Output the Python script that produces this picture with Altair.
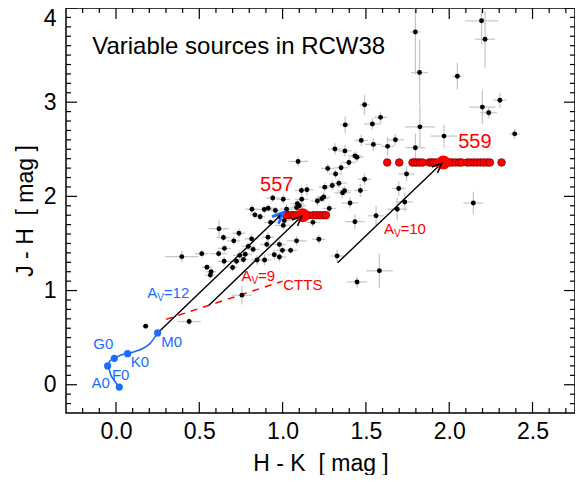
import math
import altair as alt
import pandas as pd

# ---------------- data ----------------
# black variable sources: H-K, J-H and their errors
bx = [0.178, 0.439, 0.395, 0.515, 0.546, 0.571, 0.566, 0.618, 0.645, 0.651,
      0.616, 0.649, 0.707, 0.738, 0.700, 0.723, 0.743, 0.765, 0.776, 0.794,
      0.814, 0.823, 0.816, 0.834, 0.865, 0.890, 0.847, 0.892, 0.912, 0.905,
      0.941, 1.004, 0.928, 0.957, 0.950, 0.981, 0.999, 1.004, 0.981, 1.048,
      1.084, 1.093, 1.113, 1.088, 1.115, 1.182, 1.218, 1.209, 1.235, 1.247,
      1.253, 1.271, 1.280, 1.298, 1.318, 1.314, 1.351, 1.338, 1.360, 1.372,
      1.376, 1.374, 1.398, 1.434, 1.447, 1.467, 1.472, 1.492, 1.405, 1.434,
      1.492, 1.539, 1.545, 1.588, 1.561, 1.581, 1.447, 1.327, 1.630, 1.677,
      1.697, 1.688, 1.733, 1.744, 1.797, 1.824, 1.822, 1.797, 1.969, 2.049,
      2.145, 2.194, 2.215, 2.199, 2.237, 2.304, 2.393, 0.756, 1.084, 1.100,
      1.146, 0.914, 0.984, 1.024, 1.010]
by = [0.622, 0.671, 1.360, 1.392, 1.248, 1.199, 1.164, 1.657, 1.563, 1.448,
      1.392, 1.311, 1.528, 1.608, 1.245, 1.311, 1.374, 1.329, 1.385, 1.469,
      1.549, 1.437, 1.864, 1.804, 1.783, 1.860, 1.325, 1.325, 1.566, 1.490,
      1.983, 1.969, 1.724, 1.850, 1.381, 1.357, 1.427, 1.692, 1.490, 1.427,
      1.528, 2.371, 2.063, 1.923, 1.969, 1.724, 1.545, 1.951, 1.976, 1.993,
      2.098, 2.297, 1.871, 2.115, 2.238, 2.503, 2.304, 2.140, 2.038, 2.059,
      2.759, 2.483, 2.360, 2.430, 2.416, 2.063, 2.594, 2.182, 1.930, 1.731,
      2.972, 2.769, 2.552, 2.839, 1.794, 1.210, 1.091, 1.367, 2.531, 2.601,
      2.084, 1.864, 1.941, 2.238, 2.517, 2.738, 3.315, 3.745, 2.640, 3.276,
      1.930, 3.864, 3.668, 2.948, 2.888, 3.021, 2.664, 0.951, 1.880, 1.900,
      2.070, 1.874, 1.784, 1.864, 1.742]
bxe = [0.02, 0.07, 0.10, 0.04, 0.03, 0.03, 0.03, 0.06, 0.04, 0.04,
       0.05, 0.04, 0.04, 0.04, 0.03, 0.04, 0.04, 0.03, 0.04, 0.04,
       0.04, 0.04, 0.04, 0.03, 0.03, 0.05, 0.04, 0.04, 0.04, 0.04,
       0.04, 0.04, 0.04, 0.03, 0.04, 0.04, 0.04, 0.05, 0.04, 0.04,
       0.06, 0.06, 0.04, 0.04, 0.04, 0.04, 0.04, 0.04, 0.04, 0.04,
       0.04, 0.04, 0.04, 0.04, 0.04, 0.04, 0.04, 0.05, 0.05, 0.04,
       0.03, 0.04, 0.04, 0.04, 0.04, 0.04, 0.04, 0.04, 0.05, 0.06,
       0.03, 0.05, 0.05, 0.04, 0.05, 0.08, 0.06, 0.04, 0.04, 0.05,
       0.04, 0.06, 0.05, 0.05, 0.06, 0.09, 0.05, 0.03, 0.08, 0.03,
       0.06, 0.10, 0.06, 0.08, 0.05, 0.04, 0.03, 0.06, 0.04, 0.04,
       0.04, 0.04, 0.04, 0.04, 0.04]
bye = [0.03, 0.04, 0.06, 0.04, 0.03, 0.03, 0.03, 0.09, 0.04, 0.04,
       0.04, 0.05, 0.04, 0.05, 0.04, 0.04, 0.05, 0.04, 0.04, 0.04,
       0.05, 0.04, 0.04, 0.04, 0.04, 0.04, 0.05, 0.06, 0.05, 0.05,
       0.04, 0.05, 0.04, 0.04, 0.05, 0.05, 0.04, 0.05, 0.05, 0.04,
       0.05, 0.05, 0.05, 0.05, 0.05, 0.05, 0.05, 0.05, 0.04, 0.05,
       0.05, 0.05, 0.05, 0.05, 0.05, 0.06, 0.05, 0.05, 0.06, 0.05,
       0.09, 0.06, 0.05, 0.05, 0.05, 0.07, 0.06, 0.06, 0.06, 0.08,
       0.11, 0.06, 0.07, 0.06, 0.10, 0.18, 0.06, 0.07, 0.10, 0.06,
       0.08, 0.12, 0.10, 0.08, 0.15, 0.22, 0.35, 0.45, 0.12, 0.14,
       0.12, 0.25, 0.30, 0.18, 0.06, 0.08, 0.05, 0.10, 0.05, 0.05,
       0.06, 0.04, 0.05, 0.05, 0.05]

# multi-epoch red measurements of sources 557 and 559
r557_x = [1.024, 1.040, 1.054, 1.068, 1.088, 1.154, 1.184, 1.204, 1.224, 1.244, 1.260]
r557_y = 1.80
r559_x = [1.628, 1.700, 1.780, 1.794, 1.808, 1.824, 1.840, 1.880, 1.894, 1.908,
          1.924, 2.004, 2.020, 2.040, 2.060, 2.074, 2.108, 2.128, 2.148, 2.168,
          2.188, 2.208, 2.228, 2.244, 2.314]
r559_y = 2.36
big_x = [1.12, 1.965]
big_y = [1.80, 2.36]
big_lab = ["557", "559"]
big_lab_x = [0.965, 2.154]
big_lab_y = [2.126, 2.58]

# intrinsic dwarf locus (blue)
ms_x = [0.020, -0.006, -0.032, -0.050, -0.036, -0.010, 0.034, 0.070, 0.114, 0.164, 0.204, 0.234, 0.250]
ms_y = [-0.025, 0.035, 0.108, 0.200, 0.255, 0.280, 0.318, 0.330, 0.353, 0.388, 0.437, 0.507, 0.550]
sp_x = [0.020, -0.050, -0.010, 0.070, 0.250]
sp_y = [-0.025, 0.200, 0.280, 0.330, 0.550]
sp_lab = ["A0", "F0", "G0", "K0", "M0"]
sp_lab_x = [-0.092, 0.028, -0.076, 0.144, 0.334]
sp_lab_y = [0.017, 0.105, 0.430, 0.237, 0.457]

# CTTS locus (dashed red)
ctts_x = [0.30, 1.00]
ctts_y = [0.694, 1.10]

# reddening vectors
vec_x0 = [0.25, 0.558, 1.330]
vec_y0 = [0.55, 0.845, 1.294]
vec_x1 = [1.005, 1.115, 1.955]
vec_y1 = [1.830, 1.790, 2.352]
vec_head_color = ["#1a6cff", "black", "black"]

# annotation texts
av_text = ["=12", "=9", "=10"]
av_x = [0.188, 0.753, 1.608]
av_y = [0.976, 1.155, 1.654]
av_color = ["#1a6cff", "red", "red"]

x_major = [0.0, 0.5, 1.0, 1.5, 2.0, 2.5]
y_major = [0, 1, 2, 3, 4]
XDOM = [-0.3, 2.755]
YDOM = [-0.3, 4.0]
W, H = 509, 405
FONT = "Liberation Sans"
BLUE = "#1a6cff"
NB = "\u00a0"

x_minor = [round(-0.2 + 0.1 * i, 1) for i in range(30)]
x_minor = [v for v in x_minor if v not in x_major]
y_minor = [round(-0.2 + 0.1 * i, 1) for i in range(42)]
y_minor = [v for v in y_minor if v not in y_major]

# ---------------- helpers ----------------
xs = alt.Scale(domain=XDOM, nice=False, zero=False)
ys = alt.Scale(domain=YDOM, nice=False, zero=False)
xaxis = alt.Axis(values=x_major, format=".1f", ticks=False, domain=False, grid=False,
                 labelFont=FONT, labelFontSize=23, labelColor="black", labelPadding=7,
                 labelFlush=False,
                 title="H - K" + NB + NB + "[ mag ]", titleFont=FONT, titleFontSize=23,
                 titleFontWeight="normal", titleColor="black", titlePadding=9)
yaxis = alt.Axis(values=y_major, format="d", ticks=False, domain=False, grid=False,
                 labelFont=FONT, labelFontSize=23, labelColor="black", labelPadding=10,
                 labelFlush=True, labelFlushOffset=1,
                 title="J - H" + NB + NB + "[ mag ]", titleFont=FONT, titleFontSize=23,
                 titleFontWeight="normal", titleColor="black", titlePadding=6)


def X(f):
    return alt.X(f, type="quantitative", scale=xs, axis=xaxis)


def Y(f):
    return alt.Y(f, type="quantitative", scale=ys, axis=yaxis)


pts = pd.DataFrame({"x": bx, "y": by, "xe": bxe, "ye": bye})
base = alt.Chart(pts).transform_calculate(
    x0="datum.x - datum.xe", x1="datum.x + datum.xe",
    y0="datum.y - datum.ye", y1="datum.y + datum.ye")
ebx = base.mark_rule(color="#c8c8c8", strokeWidth=1.3, clip=True).encode(
    x=X("x0"), x2="x1", y=Y("y"))
eby = base.mark_rule(color="#c8c8c8", strokeWidth=1.3, clip=True).encode(
    x=X("x"), y=Y("y0"), y2="y1")
blk = alt.Chart(pts).mark_circle(color="black", size=24, opacity=1).encode(x=X("x"), y=Y("y"))

ctts = alt.Chart(pd.DataFrame({"x": ctts_x, "y": ctts_y})).mark_line(
    color="red", strokeWidth=1.5, strokeDash=[7, 6]).encode(x=X("x"), y=Y("y"))

vec = pd.DataFrame({"x0": vec_x0, "y0": vec_y0, "x1": vec_x1, "y1": vec_y1, "c": vec_head_color})
vec["ang"] = [math.degrees(math.atan2((a1 - a0) * W / (XDOM[1] - XDOM[0]),
                                      (b1 - b0) * H / (YDOM[1] - YDOM[0])))
              for a0, b0, a1, b1 in zip(vec_x0, vec_y0, vec_x1, vec_y1)]
vlines = alt.Chart(vec).mark_rule(color="black", strokeWidth=1.4).encode(
    x=X("x0"), y=Y("y0"), x2="x1", y2="y1")
HEAD = "M-0.42,1L0,0L0.42,1"
heads_k = alt.Chart(vec[vec.c == "black"]).mark_point(
    shape=HEAD, filled=False, color="black", strokeWidth=1.5, size=380, opacity=1).encode(
    x=X("x1"), y=Y("y1"), angle=alt.Angle("ang:Q", scale=None))
heads_b = alt.Chart(vec[vec.c != "black"]).mark_point(
    shape=HEAD, filled=False, color=BLUE, strokeWidth=2.6, size=520, opacity=1).encode(
    x=X("x1"), y=Y("y1"), angle=alt.Angle("ang:Q", scale=None))

reds = pd.DataFrame({"x": r557_x + r559_x,
                     "y": [r557_y] * len(r557_x) + [r559_y] * len(r559_x)})
redpts = alt.Chart(reds).mark_point(filled=True, fill="red", stroke="#8a0000",
                                    strokeWidth=0.8, size=58, opacity=1).encode(x=X("x"), y=Y("y"))
bigdf = pd.DataFrame({"x": big_x, "y": big_y, "t": big_lab, "lx": big_lab_x, "ly": big_lab_y})
bigpts = alt.Chart(bigdf).mark_circle(color="red", size=200, opacity=1).encode(x=X("x"), y=Y("y"))
biglab = alt.Chart(bigdf).mark_text(color="red", font=FONT, fontSize=20, align="center",
                                    baseline="middle").encode(x=X("lx"), y=Y("ly"), text="t")

ms = alt.Chart(pd.DataFrame({"x": ms_x, "y": ms_y, "o": list(range(len(ms_x)))})).mark_line(
    color=BLUE, strokeWidth=1.6, interpolate="monotone").encode(x=X("x"), y=Y("y"), order="o:Q")
spdf = pd.DataFrame({"x": sp_x, "y": sp_y, "t": sp_lab, "lx": sp_lab_x, "ly": sp_lab_y})
sppts = alt.Chart(spdf).mark_circle(color=BLUE, size=52, opacity=1).encode(x=X("x"), y=Y("y"))
splab = alt.Chart(spdf).mark_text(color=BLUE, font=FONT, fontSize=15, align="center",
                                  baseline="middle").encode(x=X("lx"), y=Y("ly"), text="t")

avdf = pd.DataFrame({"x": av_x, "y": av_y, "t": av_text, "c": av_color})
cscale = alt.Scale(domain=[BLUE, "red"], range=[BLUE, "red"])
avA = alt.Chart(avdf).mark_text(font=FONT, fontSize=15, align="left", baseline="middle").encode(
    x=X("x"), y=Y("y"), text=alt.value("A"), color=alt.Color("c:N", scale=cscale, legend=None))
avV = alt.Chart(avdf).mark_text(font=FONT, fontSize=10, align="left", baseline="middle",
                                dx=10, dy=5).encode(
    x=X("x"), y=Y("y"), text=alt.value("V"), color=alt.Color("c:N", scale=cscale, legend=None))
avN = alt.Chart(avdf).mark_text(font=FONT, fontSize=15, align="left", baseline="middle",
                                dx=16.5).encode(
    x=X("x"), y=Y("y"), text="t", color=alt.Color("c:N", scale=cscale, legend=None))

misc = pd.DataFrame({"t": ["CTTS", "Variable sources in RCW38"], "x": [1.004, -0.143],
                     "y": [1.06, 3.585]})
cttslab = alt.Chart(misc.iloc[:1]).mark_text(color="red", font=FONT, fontSize=15, align="left",
                                             baseline="middle").encode(x=X("x"), y=Y("y"), text="t")
title = alt.Chart(misc.iloc[1:]).mark_text(color="black", font=FONT, fontSize=24, align="left",
                                           baseline="middle").encode(x=X("x"), y=Y("y"), text="t")


# ticks (inward, mirrored on all four sides)
def xticks(vals, L):
    d = alt.Chart(pd.DataFrame({"v": vals}))
    b = d.mark_rule(color="black", strokeWidth=1.2).encode(x=X("v"), y=alt.value(H), y2=alt.value(H - L))
    t = d.mark_rule(color="black", strokeWidth=1.2).encode(x=X("v"), y=alt.value(0), y2=alt.value(L))
    return [b, t]


def yticks(vals, L):
    d = alt.Chart(pd.DataFrame({"v": vals}))
    l = d.mark_rule(color="black", strokeWidth=1.2).encode(y=Y("v"), x=alt.value(0), x2=alt.value(L))
    r = d.mark_rule(color="black", strokeWidth=1.2).encode(y=Y("v"), x=alt.value(W), x2=alt.value(W - L))
    return [l, r]


ticks = xticks(x_major, 11) + xticks(x_minor, 5) + yticks(y_major, 11) + yticks(y_minor, 5)

chart = alt.layer(
    ebx, eby, ctts, vlines, blk, redpts, bigpts, heads_k, heads_b, ms, sppts,
    splab, biglab, avA, avV, avN, cttslab, title, *ticks
).properties(
    width=W, height=H, autosize="none",
    padding={"left": 58, "top": 0, "right": 0, "bottom": 62},
    background="white"
).configure_view(stroke="black", strokeWidth=1.5)

chart.save("out.html", embed_options={"renderer": "svg", "actions": False})
